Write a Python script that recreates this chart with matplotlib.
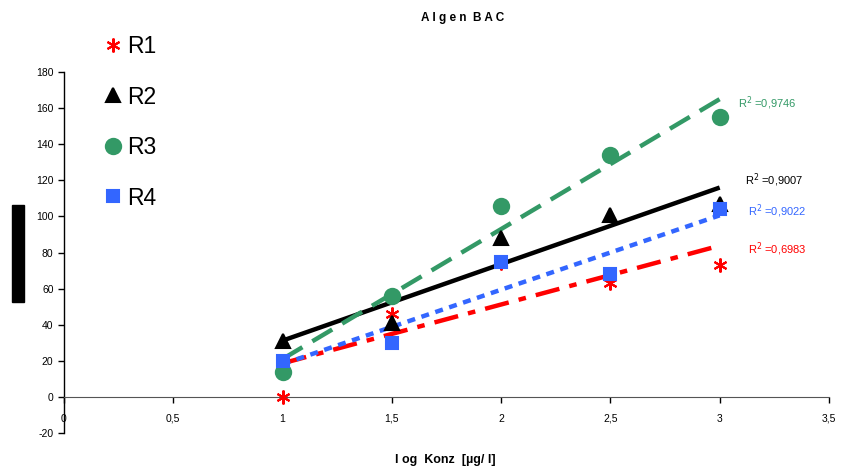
import numpy as np
import matplotlib
matplotlib.use('Agg')
import matplotlib.pyplot as plt
from matplotlib.patches import Rectangle

plt.rcParams['font.family'] = ['Liberation Sans', 'DejaVu Sans']
plt.rcParams['axes.unicode_minus'] = False

# data
x = [1, 1.5, 2, 2.5, 3]
r1 = [0, 46, 74, 63, 73]
r2 = [31, 41, 88, 101, 107]
r3 = [14, 56, 106, 134, 155]
r4 = [20, 30, 75, 68, 104]
labels = ['R1', 'R2', 'R3', 'R4']
r2_texts = ['0,6983', '0,9007', '0,9746', '0,9022']

colors = ['#ff0000', '#000000', '#339966', '#3366ff']
markers = [(6, 2, 0), '^', 'o', 's']
msizes = [10, 9.5, 11, 8.5]
dashes = [(5.5, 2.3, 1.7, 2.3), None, (5.2, 2.6), (1.8, 1.5)]
text_pos = [(3.13, 82), (3.115, 120), (3.083, 163), (3.13, 103)]

fig = plt.figure(figsize=(8.44, 4.70), dpi=100)
ax = fig.add_axes([0.0758, 0.0787, 0.9064, 0.768])

xs = np.array(x)
handles = []
for i, ys in enumerate([r1, r2, r3, r4]):
    ys = np.array(ys)
    h, = ax.plot(xs, ys, linestyle='none', marker=markers[i], color=colors[i],
                 markersize=msizes[i], markeredgewidth=1.5, zorder=3)
    handles.append(h)
    # linear trendline
    k, d = np.polyfit(xs, ys, 1)
    tx = np.array([1, 3])
    ln, = ax.plot(tx, k * tx + d, color=colors[i], lw=3.2, zorder=2,
                  solid_capstyle='butt', dash_capstyle='butt')
    if dashes[i] is not None:
        ln.set_dashes(dashes[i])
    ax.text(text_pos[i][0], text_pos[i][1], 'R$^2$ =' + r2_texts[i],
            color=colors[i], fontsize=8, va='center', ha='left')

ax.set_xlim(0, 3.5)
ax.set_ylim(-20, 180)
ax.set_xticks(np.arange(0, 3.51, 0.5))
ax.set_xticklabels(['0', '0,5', '1', '1,5', '2', '2,5', '3', '3,5'])
ax.set_yticks(np.arange(-20, 181, 20))
ax.spines['top'].set_visible(False)
ax.spines['right'].set_visible(False)
ax.spines['bottom'].set_position(('data', 0))
ax.spines['left'].set_linewidth(1)
ax.spines['bottom'].set_color('#555555')
ax.tick_params(axis='both', labelsize=7.5, length=4, width=1)
ax.tick_params(axis='x', pad=8)
ax.patch.set_alpha(0)

fig.text(0.548, 0.962, 'A l g e n  B A C', fontsize=8.5, fontweight='bold', ha='center', va='center')
fig.text(0.528, 0.021, 'l og  Konz  [µg/ l]', fontsize=9, fontweight='bold', ha='center', va='center')

fig.patches.append(Rectangle((0.0142, 0.3574), 0.0142, 0.2064, transform=fig.transFigure,
                             color='black', zorder=5))

fig.legend(handles, labels, loc='upper left', bbox_to_anchor=(0.108, 0.945),
           frameon=False, fontsize=16.5, labelspacing=1.2, handletextpad=0.05,
           handlelength=1.1, borderaxespad=0)

plt.savefig('out.png', dpi=100)
plt.close()
